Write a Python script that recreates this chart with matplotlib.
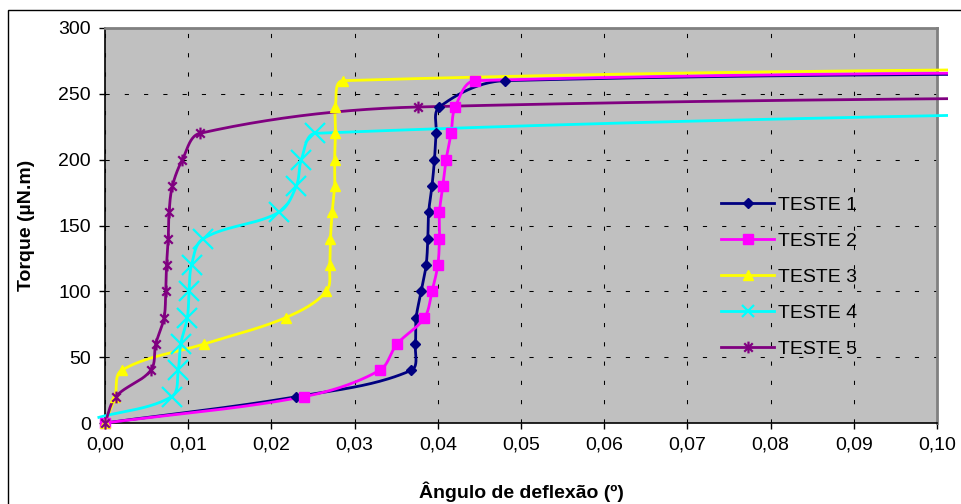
import numpy as np
import matplotlib
matplotlib.use("Agg")
import matplotlib.pyplot as plt
from matplotlib.lines import Line2D
from matplotlib.path import Path
from matplotlib.patches import Rectangle

plt.rcParams['font.family'] = ['Liberation Sans', 'DejaVu Sans']

# ---------------- data ----------------
x_ticks = [0.00, 0.01, 0.02, 0.03, 0.04, 0.05, 0.06, 0.07, 0.08, 0.09, 0.10]
x_tick_labels = ["0,00", "0,01", "0,02", "0,03", "0,04", "0,05",
                 "0,06", "0,07", "0,08", "0,09", "0,10"]
y_ticks = [0, 50, 100, 150, 200, 250, 300]

series_names = ["TESTE 1", "TESTE 2", "TESTE 3", "TESTE 4", "TESTE 5"]

t1_x = [0.0, 0.0230, 0.0368, 0.0373, 0.0374, 0.0380, 0.0386, 0.0388, 0.0389,
        0.0393, 0.0396, 0.0398, 0.0402, 0.0481, 0.2000]
t1_y = [0, 20, 40, 60, 80, 100, 120, 140, 160, 180, 200, 220, 240, 260, 265.7]

t2_x = [0.0, 0.0239, 0.0330, 0.0351, 0.0384, 0.0393, 0.0400, 0.0402, 0.0402,
        0.0406, 0.0410, 0.0416, 0.0421, 0.0445, 0.2000]
t2_y = [0, 20, 40, 60, 80, 100, 120, 140, 160, 180, 200, 220, 240, 260, 267.6]

t3_x = [0.0, 0.0012, 0.0020, 0.0119, 0.0217, 0.0266, 0.0270, 0.0271, 0.0273,
        0.0276, 0.0276, 0.0277, 0.0277, 0.0286, 0.2000]
t3_y = [0, 20, 40, 60, 80, 100, 120, 140, 160, 180, 200, 220, 240, 260, 272.6]

t4_x = [-0.0009, 0.0080, 0.0088, 0.0091, 0.0099, 0.0101, 0.0104, 0.0118,
        0.0209, 0.0230, 0.0236, 0.0253, 0.2000]
t4_y = [4, 20, 40, 60, 80, 100, 120, 140, 160, 180, 200, 220, 245]

t5_x = [0.0, 0.0013, 0.0055, 0.0061, 0.0071, 0.0073, 0.0074, 0.0076, 0.0077,
        0.0081, 0.0093, 0.0114, 0.0376, 0.2000]
t5_y = [0, 20, 40, 60, 80, 100, 120, 140, 160, 180, 200, 220, 240, 250.3]

# ---------------- style ----------------
colors = ["#000080", "#FF00FF", "#FFFF00", "#00FFFF", "#800080"]

ast = Path([(0, -1), (0, 1), (-0.72, -0.72), (0.72, 0.72), (-0.72, 0.72), (0.72, -0.72)],
           [Path.MOVETO, Path.LINETO, Path.MOVETO, Path.LINETO, Path.MOVETO, Path.LINETO])

markers = ["D", "s", "^", "x", ast]
msizes = [4.8, 7.0, 7.0, 14.0, 8.5]
leg_msizes = [4.8, 7.0, 7.0, 9.0, 8.5]
mews = [1, 1, 1, 1.6, 1.6]

W, H, DPI = 961, 504, 100
fig = plt.figure(figsize=(W / DPI, H / DPI), dpi=DPI)
L, R, T, B = 105, 937, 28, 423
ax = fig.add_axes([L / W, 1 - B / H, (R - L) / W, (B - T) / H])
ax.set_facecolor("#C0C0C0")
ax.set_xlim(0, 0.10)
ax.set_ylim(0, 300)

SX = (R - L) / 0.10
SY = (B - T) / 300.0


def smooth(xs, ys, n=40):
    P = np.column_stack([np.asarray(xs) * SX, np.asarray(ys) * SY])
    out = [P[0]]
    m = len(P)
    t = np.linspace(0, 1, n)[1:][:, None]
    for i in range(m - 1):
        p0 = P[i - 1] if i > 0 else P[i]
        p1 = P[i]
        p2 = P[i + 1]
        p3 = P[i + 2] if i + 2 < m else P[i + 1]
        d = np.linalg.norm(p2 - p1)
        u1 = p2 - p0
        u2 = p3 - p1
        u1 = u1 / (np.linalg.norm(u1) + 1e-12)
        u2 = u2 / (np.linalg.norm(u2) + 1e-12)
        c1 = p1 + u1 * d / 3
        c2 = p2 - u2 * d / 3
        seg = ((1 - t) ** 3) * p1 + 3 * ((1 - t) ** 2) * t * c1 + 3 * (1 - t) * t ** 2 * c2 + t ** 3 * p2
        out.extend(seg)
    out = np.array(out)
    return out[:, 0] / SX, out[:, 1] / SY


clip = Rectangle((-0.012, -0.05), 1.0132 + 0.012, 1.1, transform=ax.transAxes)

data = [(t1_x, t1_y), (t2_x, t2_y), (t3_x, t3_y), (t4_x, t4_y), (t5_x, t5_y)]
for i, (xs, ys) in enumerate(data):
    sx, sy = smooth(xs, ys)
    ln, = ax.plot(sx, sy, color=colors[i], lw=2.0, zorder=3 + i * 0.1, solid_capstyle="butt")
    ln.set_clip_path(clip)

for i, (xs, ys) in enumerate(data):
    mx = [x for x in xs if -0.0005 <= x <= 0.10]
    my = [y for x, y in zip(xs, ys) if -0.0005 <= x <= 0.10]
    ax.plot(mx, my, ls="none", marker=markers[i], ms=msizes[i], color=colors[i],
            mec=colors[i], mfc=colors[i], mew=mews[i], zorder=5 + i * 0.1, clip_on=False)

# grid
ax.set_xticks(x_ticks)
ax.set_xticklabels(x_tick_labels)
ax.set_yticks(y_ticks)
ax.grid(True, color="black", lw=0.75, linestyle=(0, (4.0, 14.5)), zorder=1)
ax.set_axisbelow(True)

ax.tick_params(axis="both", direction="out", length=4, width=1, colors="black",
               labelsize=14)
ax.tick_params(axis="y", pad=6)
ax.tick_params(axis="x", pad=6)

for s in ["left", "bottom"]:
    ax.spines[s].set_color("black")
    ax.spines[s].set_linewidth(1.2)
for s in ["top", "right"]:
    ax.spines[s].set_color("#808080")
    ax.spines[s].set_linewidth(2.0)

ax.set_xlabel("Ângulo de deflexão (º)", fontsize=14, fontweight="bold")
ax.set_ylabel("Torque (µN.m)", fontsize=14, fontweight="bold")
ax.xaxis.set_label_coords(0.5, (B - 481) / (B - T))
ax.yaxis.set_label_coords((35 - L) / (R - L), 0.5)

handles = [Line2D([], [], color=colors[i], lw=2.0, marker=markers[i], ms=leg_msizes[i],
                  mfc=colors[i], mec=colors[i], mew=mews[i]) for i in range(5)]
leg = fig.legend(handles, series_names, loc="upper left",
                 bbox_to_anchor=(721 / W, 1 - 196 / H), frameon=False,
                 fontsize=14, handlelength=2.75, handletextpad=0.2,
                 labelspacing=0.95, borderpad=0, borderaxespad=0)

# outer chart border
fig.patches.append(Rectangle((8 / W, -0.2), 1.2, (H - 10) / H + 0.2, transform=fig.transFigure,
                             fill=False, edgecolor="black", lw=1.0))

fig.savefig("out.png", dpi=DPI)
